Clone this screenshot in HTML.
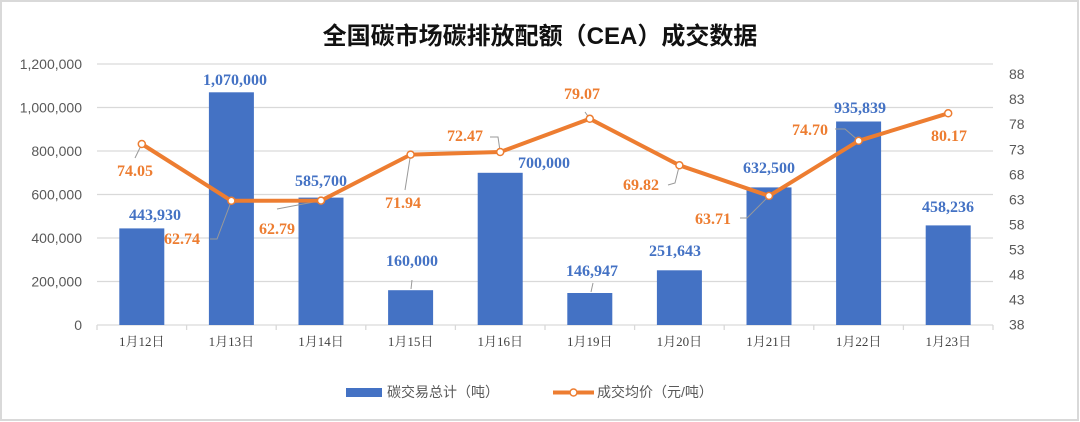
<!DOCTYPE html>
<html><head><meta charset="utf-8"><style>
html,body{margin:0;padding:0;background:#fff;}
svg{display:block;}
</style></head><body>
<svg width="1080" height="422" xmlns="http://www.w3.org/2000/svg">
<rect x="1" y="1" width="1077" height="419" fill="#fff" stroke="#d9d9d9" stroke-width="2"/>
<text x="540" y="44" text-anchor="middle" font-family="'Liberation Sans','Noto Sans CJK SC',sans-serif" font-size="24" font-weight="bold" fill="#111">全国碳市场碳排放配额（CEA）成交数据</text>
<g stroke="#d9d9d9" stroke-width="1.3">
<line x1="97" x2="993" y1="64" y2="64"/><line x1="97" x2="993" y1="107.5" y2="107.5"/>
<line x1="97" x2="993" y1="151" y2="151"/><line x1="97" x2="993" y1="194.5" y2="194.5"/>
<line x1="97" x2="993" y1="238" y2="238"/><line x1="97" x2="993" y1="281.5" y2="281.5"/>
<line x1="97" x2="993" y1="325" y2="325"/>
<line x1="97" x2="97" y1="325" y2="330"/><line x1="186.6" x2="186.6" y1="325" y2="330"/><line x1="276.2" x2="276.2" y1="325" y2="330"/><line x1="365.8" x2="365.8" y1="325" y2="330"/><line x1="455.4" x2="455.4" y1="325" y2="330"/><line x1="545" x2="545" y1="325" y2="330"/><line x1="634.6" x2="634.6" y1="325" y2="330"/><line x1="724.2" x2="724.2" y1="325" y2="330"/><line x1="813.8" x2="813.8" y1="325" y2="330"/><line x1="903.4" x2="903.4" y1="325" y2="330"/><line x1="993" x2="993" y1="325" y2="330"/>
</g>
<g font-family="'Liberation Sans',sans-serif" font-size="14" fill="#595959" text-anchor="end">
<text x="82" y="69">1,200,000</text><text x="82" y="112.5">1,000,000</text><text x="82" y="156">800,000</text><text x="82" y="199.5">600,000</text><text x="82" y="243">400,000</text><text x="82" y="286.5">200,000</text><text x="82" y="330">0</text>
</g>
<g font-family="'Liberation Sans',sans-serif" font-size="14" fill="#595959">
<text x="1009" y="79">88</text><text x="1009" y="104">83</text><text x="1009" y="129">78</text><text x="1009" y="154.5">73</text><text x="1009" y="179.5">68</text><text x="1009" y="204.5">63</text><text x="1009" y="229.5">58</text><text x="1009" y="254.5">53</text><text x="1009" y="279.5">48</text><text x="1009" y="304.5">43</text><text x="1009" y="329.5">38</text>
</g>
<g fill="#4472c4">
<rect x="119.3" y="228.4" width="45" height="96.6"/><rect x="208.9" y="92.3" width="45" height="232.7"/><rect x="298.5" y="197.6" width="45" height="127.4"/><rect x="388.1" y="290.2" width="45" height="34.8"/><rect x="477.7" y="172.8" width="45" height="152.2"/><rect x="567.3" y="293" width="45" height="32"/><rect x="656.9" y="270.3" width="45" height="54.7"/><rect x="746.5" y="187.4" width="45" height="137.6"/><rect x="836.1" y="121.5" width="45" height="203.5"/><rect x="925.7" y="225.4" width="45" height="99.6"/>
</g>
<g font-family="'Liberation Serif','Noto Serif CJK SC',serif" font-size="13" fill="#404040" text-anchor="middle">
<text x="141.8" y="346">1月12日</text><text x="231.4" y="346">1月13日</text><text x="321" y="346">1月14日</text><text x="410.6" y="346">1月15日</text><text x="500.2" y="346">1月16日</text><text x="589.8" y="346">1月19日</text><text x="679.4" y="346">1月20日</text><text x="769" y="346">1月21日</text><text x="858.6" y="346">1月22日</text><text x="948.2" y="346">1月23日</text>
</g>
<g stroke="#999" stroke-width="1" fill="none">
<polyline points="141.8,144 135,158"/>
<polyline points="231.4,200.8 217,239 210,239"/>
<polyline points="321,200.6 277,209"/>
<polyline points="410.6,154.6 405,190"/>
<polyline points="500.2,152 498,137 490,137"/>
<polyline points="589.8,118.8 585,112"/>
<polyline points="679.4,165.3 675,183 668,185"/>
<polyline points="769,195.9 747,218 740,218"/>
<polyline points="858.6,140.8 845,129 835,129"/>
<polyline points="411,289 412,280"/>
<polyline points="591,292 593,283"/>
</g>
<polyline fill="none" stroke="#ed7d31" stroke-width="4" stroke-linejoin="round" points="141.8,144 231.4,200.8 321,200.6 410.6,154.6 500.2,152 589.8,118.8 679.4,165.3 769,195.9 858.6,140.8 948.2,113.3"/>
<g fill="#fff" stroke="#ed7d31" stroke-width="1.5">
<circle cx="141.8" cy="144" r="3.5"/><circle cx="231.4" cy="200.8" r="3.5"/><circle cx="321" cy="200.6" r="3.5"/><circle cx="410.6" cy="154.6" r="3.5"/><circle cx="500.2" cy="152" r="3.5"/><circle cx="589.8" cy="118.8" r="3.5"/><circle cx="679.4" cy="165.3" r="3.5"/><circle cx="769" cy="195.9" r="3.5"/><circle cx="858.6" cy="140.8" r="3.5"/><circle cx="948.2" cy="113.3" r="3.5"/>
</g>
<g font-family="'Liberation Serif',serif" font-size="16" font-weight="bold" fill="#4472c4" text-anchor="middle">
<text x="155" y="220">443,930</text><text x="235" y="85">1,070,000</text><text x="321" y="186">585,700</text><text x="412" y="266">160,000</text><text x="544" y="168">700,000</text><text x="592" y="276">146,947</text><text x="675" y="256">251,643</text><text x="769" y="173">632,500</text><text x="860" y="113">935,839</text><text x="948" y="212">458,236</text>
</g>
<g font-family="'Liberation Serif',serif" font-size="16" font-weight="bold" fill="#ed7d31" text-anchor="middle">
<text x="135" y="176">74.05</text><text x="182" y="244">62.74</text><text x="277" y="234">62.79</text><text x="403" y="208">71.94</text><text x="465" y="141">72.47</text><text x="582" y="99">79.07</text><text x="641" y="190">69.82</text><text x="713" y="224">63.71</text><text x="810" y="135">74.70</text><text x="949" y="141">80.17</text>
</g>
<rect x="346" y="388" width="36" height="9" fill="#4472c4"/>
<text x="387" y="397" font-family="'Liberation Sans','Noto Sans CJK SC',sans-serif" font-size="14" fill="#595959">碳交易总计（吨）</text>
<line x1="553" x2="594" y1="392.5" y2="392.5" stroke="#ed7d31" stroke-width="4"/>
<circle cx="573.5" cy="392.5" r="3.5" fill="#fff" stroke="#ed7d31" stroke-width="1.5"/>
<text x="597" y="397" font-family="'Liberation Sans','Noto Sans CJK SC',sans-serif" font-size="14" fill="#595959">成交均价（元/吨）</text>
</svg>
</body></html>
